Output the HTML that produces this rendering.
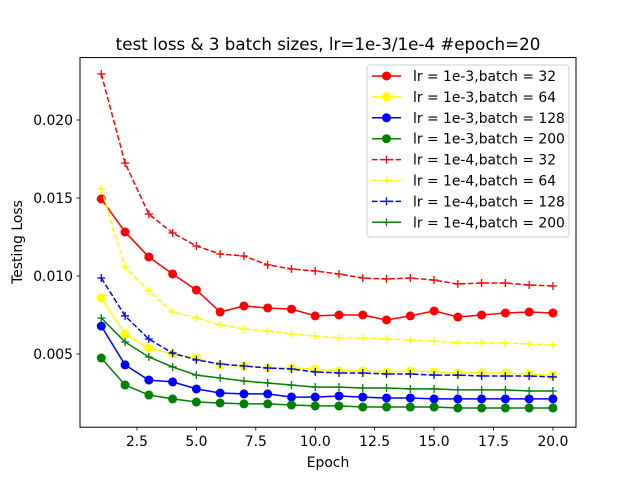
<!DOCTYPE html>
<html><head><meta charset="utf-8"><style>
body{margin:0;background:#fff}
svg text{font-family:"DejaVu Sans","Liberation Sans",sans-serif;fill:#000}
</style></head><body>
<svg id="chart" width="640" height="480" xmlns="http://www.w3.org/2000/svg">
<rect width="640" height="480" fill="#fff"/>
<text x="328" y="50" font-size="16.7" text-anchor="middle">test loss &amp; 3 batch sizes, lr=1e-3/1e-4 #epoch=20</text>
<g id="plot"></g>
<rect x="80" y="57.6" width="496" height="369.6" fill="none" stroke="#000" stroke-width="1"/>
<g id="xt"></g><g id="yt"></g>
<text x="328" y="467" font-size="13.9" text-anchor="middle">Epoch</text>
<text transform="translate(22,242) rotate(-90)" font-size="13.9" text-anchor="middle">Testing Loss</text>
<g id="legend"></g>
</svg>
<script>
const epochs=[1,2,3,4,5,6,7,8,9,10,11,12,13,14,15,16,17,18,19,20];
const r3_32=[.01494,.01282,.01122,.01013,.0091,.00769,.00808,.00795,.00788,.00744,.0075,.0075,.00718,.00744,.00776,.00737,.0075,.00763,.00769,.00763];
const r3_64=[.0086,.00628,.00538,.005,.00474,.00429,.00423,.0041,.0041,.00404,.00391,.00391,.00385,.00391,.00385,.00378,.00378,.00378,.00372,.00365];
const r3_128=[.00679,.0043,.00333,.00321,.00276,.0025,.00244,.00244,.00224,.00224,.00231,.00224,.00218,.00218,.00212,.00212,.00212,.00212,.00212,.00212];
const r3_200=[.00474,.00301,.00237,.00212,.00192,.00186,.0018,.0018,.00173,.00167,.00167,.0016,.0016,.0016,.0016,.00154,.00154,.00154,.00154,.00154];
const r4_32=[.02295,.01724,.01397,.01276,.01192,.01141,.01128,.01071,.01045,.01032,.01013,.00987,.00981,.00987,.00974,.00949,.00955,.00955,.00942,.00936];
const r4_64=[.01558,.01058,.00904,.00769,.00731,.00686,.0066,.00647,.00628,.00615,.00603,.00603,.00596,.0059,.00583,.00571,.00571,.00571,.00564,.00558];
const r4_128=[.00987,.00744,.00596,.00506,.00462,.00436,.00423,.0041,.00404,.00385,.00378,.00378,.00372,.00372,.00365,.00365,.00359,.00359,.00359,.00353];
const r4_200=[.00731,.00577,.00481,.00417,.00365,.00346,.00327,.00314,.00301,.00288,.00288,.00282,.00282,.00276,.00276,.0027,.0027,.0027,.00263,.00263];
const xTicks=[2.5,5.0,7.5,10.0,12.5,15.0,17.5,20.0];
const yTicks=[0.005,0.010,0.015,0.020];
const labels=["lr = 1e-3,batch = 32","lr = 1e-3,batch = 64","lr = 1e-3,batch = 128","lr = 1e-3,batch = 200","lr = 1e-4,batch = 32","lr = 1e-4,batch = 64","lr = 1e-4,batch = 128","lr = 1e-4,batch = 200"];
const NS="http://www.w3.org/2000/svg";
const X=v=>101.3+(v-1)*23.77;
const Y=v=>432-v*15600;
function mk(tag,attrs,parent){const e=document.createElementNS(NS,tag);for(const k in attrs)e.setAttribute(k,attrs[k]);parent.appendChild(e);return e;}
const series=[
 {d:r3_32,c:"red",dash:false,m:"o"},{d:r3_64,c:"yellow",dash:false,m:"o"},{d:r3_128,c:"blue",dash:false,m:"o"},{d:r3_200,c:"green",dash:false,m:"o"},
 {d:r4_32,c:"red",dash:true,m:"+"},{d:r4_64,c:"yellow",dash:true,m:"+"},{d:r4_128,c:"blue",dash:true,m:"+"},{d:r4_200,c:"green",dash:false,m:"+"}];
const plot=document.getElementById('plot');
function marker(g,x,y,s){
 if(s.m==="o"){return mk('circle',{cx:x,cy:y,r:4.5,fill:s.c},g);}
 return mk('path',{d:`M${x-4} ${y}H${x+4}M${x} ${y-4}V${y+4}`,stroke:s.c,'stroke-width':1.3,fill:'none'},g);
}
series.forEach((s,i)=>{
 const g=mk('g',{},plot);
 
 
 const pts=s.d.map((v,j)=>X(epochs[j]).toFixed(1)+","+Y(v).toFixed(1)).join(" ");
 const pl=mk('polyline',{points:pts,fill:'none',stroke:s.c,'stroke-width':1.5},g);
 if(s.dash)pl.setAttribute('stroke-dasharray','5.5,2.4');
 
 
 s.d.forEach((v,j)=>{const mm=marker(g,X(epochs[j]),Y(v),s);
  
  });
});
const xt=document.getElementById('xt');
xTicks.forEach(t=>{const x=X(t);
 mk('line',{x1:x,x2:x,y1:427.2,y2:430.7,stroke:'#000','stroke-width':0.8},xt);
 const tx=mk('text',{x:x,y:446,'font-size':13.9,'text-anchor':'middle'},xt);tx.textContent=t.toFixed(1);
 
 });
const yt=document.getElementById('yt');
yTicks.forEach(t=>{const y=Y(t);
 mk('line',{x1:76.5,x2:80,y1:y,y2:y,stroke:'#000','stroke-width':0.8},yt);
 const tx=mk('text',{x:73,y:y+5,'font-size':13.9,'text-anchor':'end'},yt);tx.textContent=t.toFixed(3);
 
 });
const lg=document.getElementById('legend');
mk('rect',{x:367,y:65,width:202,height:172,rx:3,fill:'#fff','fill-opacity':0.8,stroke:'#ccc'},lg);
labels.forEach((l,i)=>{const y=76+i*20.9;const s=series[i];
 const g=mk('g',{},lg);
 
 
 const ln=mk('line',{x1:372,x2:401,y1:y,y2:y,stroke:s.c,'stroke-width':1.5},g);
 if(s.dash)ln.setAttribute('stroke-dasharray','5.5,2.4');
 marker(g,386.5,y,s);
 const tx=mk('text',{x:413,y:y+5,'font-size':13.9},g);tx.textContent=l;});
</script>
</body></html>
